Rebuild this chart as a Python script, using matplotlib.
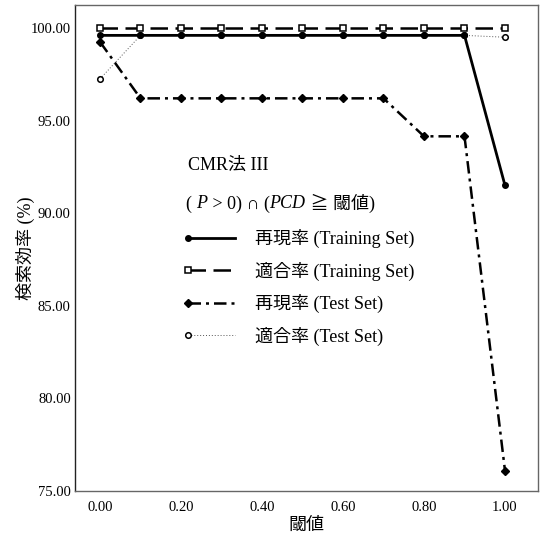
import numpy as np
import matplotlib
matplotlib.use("Agg")
import matplotlib.pyplot as plt
from matplotlib.legend_handler import HandlerLine2DCompound
from matplotlib.offsetbox import TextArea, HPacker, AnchoredOffsetbox

plt.rcParams['font.family'] = ['Liberation Serif', 'Noto Sans CJK JP', 'DejaVu Serif']

thresholds = [0.0, 0.1, 0.2, 0.3, 0.4, 0.5, 0.6, 0.7, 0.8, 0.9, 1.0]
train_recall = [99.6, 99.6, 99.6, 99.6, 99.6, 99.6, 99.6, 99.6, 99.6, 99.6, 91.5]
train_precision = [100.0, 100.0, 100.0, 100.0, 100.0, 100.0, 100.0, 100.0, 100.0, 100.0, 100.0]
test_recall = [99.25, 96.2, 96.2, 96.2, 96.2, 96.2, 96.2, 96.2, 94.15, 94.15, 76.1]
test_precision = [97.25, 99.6, 99.6, 99.6, 99.6, 99.6, 99.6, 99.6, 99.6, 99.6, 99.5]

series_labels = ['再現率 (Training Set)', '適合率 (Training Set)',
                 '再現率 (Test Set)', '適合率 (Test Set)']
xtick_values = [0.0, 0.2, 0.4, 0.6, 0.8, 1.0]
ytick_values = [75, 80, 85, 90, 95, 100]

fig = plt.figure(figsize=(5.41, 5.41), dpi=100)
ax = fig.add_axes([75/541, 50/541, (538-75)/541, (491-5)/541])

ax.plot(thresholds, train_recall, color='black', lw=2.0, ls='-',
        marker='o', ms=4, mfc='black', mec='black', label=series_labels[0], zorder=4)
ax.plot(thresholds, train_precision, color='black', lw=1.8, ls=(0, (7, 3)),
        marker='s', ms=4, mfc='white', mec='black', mew=1.1, label=series_labels[1], zorder=5)
ax.plot(thresholds, test_recall, color='black', lw=1.8, ls=(0, (5, 2, 1.2, 2)),
        marker='D', ms=4.5, mfc='black', mec='black', label=series_labels[2], zorder=3)
ax.plot(thresholds, test_precision, color='#555555', lw=0.7, ls=(0, (1, 2)),
        marker='o', ms=4, mfc='white', mec='black', mew=1.1, label=series_labels[3], zorder=3)

ax.set_xlim(-0.0617, 1.0815)
ax.set_ylim(75, 101.24)
ax.set_xticks(xtick_values)
ax.set_xticklabels([f"{v:.2f}" for v in xtick_values])
ax.set_yticks(ytick_values)
ax.set_yticklabels([f"{v:.2f}" for v in ytick_values])
ax.tick_params(length=0, labelsize=10.5, pad=3)
ax.tick_params(axis='x', pad=7)
for s in ax.spines.values():
    s.set_color('#666666')
    s.set_linewidth(1.0)
ax.spines['left'].set_color('#222222')

ax.set_xlabel('閾値', fontsize=13)
ax.set_ylabel('検索効率 (%)', fontsize=13)
ax.xaxis.set_label_coords(0.5, -(517 - 491) / 486)
ax.yaxis.set_label_coords(-(75 - 35) / 463, 0.5)


class LeftMarkerHandler(HandlerLine2DCompound):
    def get_xdata(self, legend, xdescent, ydescent, width, height, fontsize):
        xdata, _ = super().get_xdata(legend, xdescent, ydescent, width, height, fontsize)
        xdata = np.asarray(xdata, dtype=float)
        return xdata, np.array([xdata[0]])


leg = ax.legend(loc='upper left', bbox_to_anchor=((188-75)/463, 1 - (229-5)/486),
                frameon=False, fontsize=13, handlelength=2.6, handletextpad=1.1,
                labelspacing=0.75, borderpad=0, borderaxespad=0,
                handler_map={matplotlib.lines.Line2D: LeftMarkerHandler(numpoints=1)})

ax.text((188-75)/463, 1 - (165-5)/486, 'CMR法 III', transform=ax.transAxes,
        fontsize=13, va='center', ha='left')

parts = [('( ', 'normal'), ('P', 'italic'), (' > 0) ∩ (', 'normal'),
         ('PCD', 'italic'), (' ≧ 閾値)', 'normal')]
areas = [TextArea(t, textprops=dict(fontsize=13, fontstyle=st)) for t, st in parts]
pack = HPacker(children=areas, align='baseline', pad=0, sep=0)
box = AnchoredOffsetbox(loc='center left', child=pack, pad=0, borderpad=0, frameon=False,
                        bbox_to_anchor=((186-75)/463, 1 - (203-5)/486),
                        bbox_transform=ax.transAxes)
ax.add_artist(box)

fig.savefig('out.png', dpi=100)
